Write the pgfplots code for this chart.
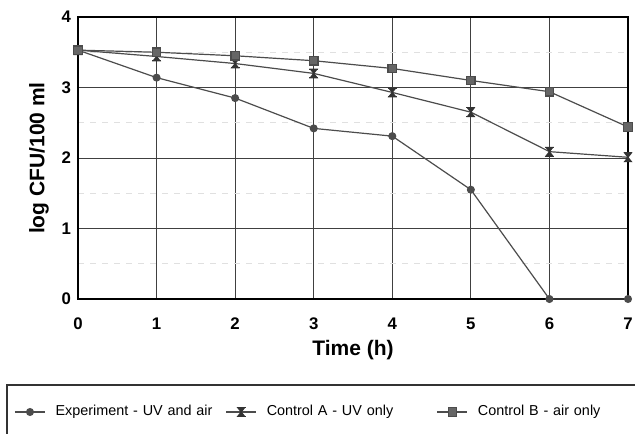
\documentclass[border=0pt]{standalone}
\usepackage{pgfplots}
\pgfplotsset{compat=1.18}
\usepackage{fontspec}
\setmainfont{Liberation Sans}

% hourglass-shaped mark with end bars
\pgfdeclareplotmark{hglass}{%
  \pgfpathmoveto{\pgfqpoint{-0.8\pgfplotmarksize}{\pgfplotmarksize}}%
  \pgfpathlineto{\pgfqpoint{0.8\pgfplotmarksize}{\pgfplotmarksize}}%
  \pgfpathlineto{\pgfqpoint{-0.8\pgfplotmarksize}{-\pgfplotmarksize}}%
  \pgfpathlineto{\pgfqpoint{0.8\pgfplotmarksize}{-\pgfplotmarksize}}%
  \pgfpathclose
  \pgfusepathqfillstroke
  \pgfpathmoveto{\pgfqpoint{-\pgfplotmarksize}{\pgfplotmarksize}}%
  \pgfpathlineto{\pgfqpoint{\pgfplotmarksize}{\pgfplotmarksize}}%
  \pgfpathmoveto{\pgfqpoint{-\pgfplotmarksize}{-\pgfplotmarksize}}%
  \pgfpathlineto{\pgfqpoint{\pgfplotmarksize}{-\pgfplotmarksize}}%
  \pgfusepathqstroke
}

\begin{document}
\begin{tikzpicture}
\begin{axis}[
  at={(0,0)}, anchor=origin,
  scale only axis,
  width=275pt, height=141pt,
  xmin=0, xmax=7, ymin=0, ymax=4,
  xtick={0,1,...,7}, ytick={0,1,2,3,4},
  minor ytick={0.5,1.5,2.5,3.5},
  grid=both,
  major grid style={black!75, line width=0.5pt},
  minor grid style={black!12, dashed, line width=0.6pt},
  axis line style={black, line width=0.6pt},
  tick style={draw=none},
  clip=false,
  /pgf/number format/assume math mode=true,
  ticklabel style={font=\fontsize{8.4}{10}\selectfont\bfseries},
  xticklabel style={yshift=-6pt},
  xlabel={Time (h)},
  ylabel={log CFU/100 ml},
  label style={font=\fontsize{10.5}{12}\selectfont\bfseries},
  xlabel style={at={(axis description cs:0.5,-0.181)}, anchor=center},
  ylabel style={at={(axis description cs:-0.0709,0.5)}, anchor=center},
  legend columns=3,
  legend image code/.code={%
    \draw[mark repeat=2,mark phase=2,#1] plot coordinates {(0pt,0pt) (7.5pt,0pt) (15pt,0pt)};},
  legend style={
    draw=none, fill=none, inner sep=0pt,
    at={(-0.1164,-0.4007)}, anchor=west,
    font=\fontsize{7.2}{8.5}\selectfont,
    nodes={inner xsep=0pt, inner ysep=1pt},
    /tikz/every odd column/.append style={column sep=5pt},
    /tikz/every even column/.append style={text width=85pt, align=left},
  },
  every axis plot/.append style={black!70, line width=0.6pt},
]
\addplot[mark=*, mark size=1.7pt, mark options={fill=black!70, draw=black!70}]
  coordinates {(0,3.53) (1,3.14) (2,2.85) (3,2.42) (4,2.31) (5,1.55) (6,0) (7,0)};
\addlegendentry{Experiment - UV and air}
\addplot[mark=hglass, mark size=2.2pt, mark options={fill=black!80, draw=black!80, line width=0.5pt}]
  coordinates {(0,3.53) (1,3.44) (2,3.34) (3,3.20) (4,2.93) (5,2.65) (6,2.09) (7,2.01)};
\addlegendentry{Control A - UV only}
\addplot[mark=square*, mark size=2.1pt, mark options={fill=black!60, draw=black!70}]
  coordinates {(0,3.53) (1,3.50) (2,3.45) (3,3.38) (4,3.27) (5,3.10) (6,2.94) (7,2.44)};
\addlegendentry{Control B - air only}
\end{axis}
% frame around the key
\draw[black!80, line width=0.6pt] (-35.5pt,-80pt) -- (-35.5pt,-43pt) -- (290pt,-43pt);
\pgfresetboundingbox
\useasboundingbox (-39pt,-67pt) rectangle (278.5pt,149.5pt);
\end{tikzpicture}
\end{document}
